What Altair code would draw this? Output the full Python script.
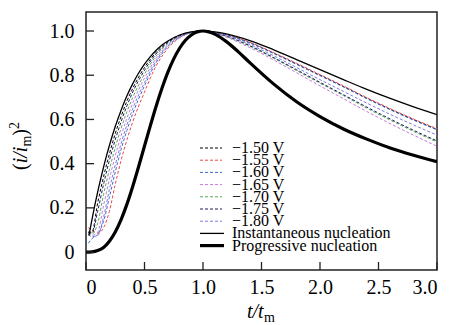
import altair as alt
import pandas as pd

# ---------------- data ----------------
x_exp = [0.02, 0.05, 0.1, 0.15, 0.2, 0.25, 0.3, 0.35, 0.4, 0.5, 0.6, 0.7, 0.8, 0.9,
         1.0, 1.1, 1.2, 1.4, 1.6, 1.8, 2.0, 2.2, 2.4, 2.6, 2.8, 3.0]

y_150 = [0.09, 0.09, 0.222, 0.341, 0.444, 0.536, 0.614, 0.683, 0.741, 0.835, 0.904, 0.951, 0.980, 0.995,
         1.0, 0.994, 0.983, 0.947, 0.901, 0.851, 0.800, 0.749, 0.696, 0.646, 0.599, 0.555]
y_155 = [0.11, 0.10, 0.085, 0.11, 0.185, 0.307, 0.415, 0.508, 0.590, 0.724, 0.843, 0.922, 0.969, 0.993,
         1.0, 0.995, 0.984, 0.949, 0.903, 0.854, 0.803, 0.752, 0.699, 0.649, 0.602, 0.558]
y_160 = [0.04, 0.06, 0.08, 0.14, 0.248, 0.362, 0.464, 0.551, 0.627, 0.752, 0.858, 0.930, 0.971, 0.993,
         1.0, 0.994, 0.982, 0.946, 0.899, 0.849, 0.798, 0.747, 0.694, 0.644, 0.597, 0.553]
y_165 = [0.085, 0.075, 0.09, 0.211, 0.330, 0.435, 0.526, 0.606, 0.675, 0.787, 0.877, 0.939, 0.975, 0.994,
         1.0, 0.989, 0.972, 0.925, 0.870, 0.811, 0.752, 0.694, 0.636, 0.581, 0.529, 0.479]
y_170 = [0.09, 0.08, 0.131, 0.260, 0.373, 0.473, 0.560, 0.635, 0.700, 0.805, 0.888, 0.943, 0.977, 0.994,
         1.0, 0.990, 0.975, 0.931, 0.878, 0.821, 0.764, 0.708, 0.651, 0.597, 0.546, 0.498]
y_175 = [0.09, 0.085, 0.185, 0.307, 0.415, 0.508, 0.590, 0.662, 0.724, 0.822, 0.897, 0.948, 0.979, 0.995,
         1.0, 0.991, 0.977, 0.934, 0.881, 0.825, 0.768, 0.712, 0.656, 0.602, 0.551, 0.503]
y_180 = [0.08, 0.07, 0.075, 0.158, 0.284, 0.394, 0.491, 0.576, 0.649, 0.767, 0.867, 0.934, 0.973, 0.993,
         1.0, 0.992, 0.979, 0.939, 0.889, 0.835, 0.780, 0.727, 0.674, 0.623, 0.575, 0.529]

x_inst = [0.025, 0.05, 0.075, 0.1, 0.125, 0.15, 0.175, 0.2, 0.25, 0.3, 0.35, 0.4, 0.45, 0.5, 0.55, 0.6,
          0.65, 0.7, 0.8, 0.9, 1.0, 1.1, 1.2, 1.4, 1.6, 1.8, 2.0, 2.2, 2.4, 2.6, 2.8, 3.0]
y_inst = [0.075, 0.145, 0.211, 0.272, 0.330, 0.384, 0.435, 0.482, 0.568, 0.642, 0.707, 0.762, 0.810,
          0.850, 0.884, 0.913, 0.937, 0.955, 0.982, 0.996, 1.0, 0.996, 0.987, 0.957, 0.916, 0.871,
          0.825, 0.780, 0.736, 0.695, 0.657, 0.622]

x_prog = [0.0, 0.05, 0.1, 0.15, 0.2, 0.25, 0.3, 0.35, 0.4, 0.45, 0.5, 0.55, 0.6, 0.65, 0.7, 0.75,
          0.8, 0.85, 0.9, 0.95, 1.0, 1.05, 1.1, 1.2, 1.3, 1.4, 1.6, 1.8, 2.0, 2.2, 2.4, 2.6, 2.8, 3.0]
y_prog = [0.0, 0.001, 0.007, 0.021, 0.049, 0.091, 0.147, 0.217, 0.298, 0.387, 0.480, 0.572, 0.661,
          0.742, 0.814, 0.874, 0.922, 0.958, 0.982, 0.996, 1.0, 0.996, 0.986, 0.952, 0.907, 0.857,
          0.762, 0.680, 0.613, 0.557, 0.511, 0.471, 0.438, 0.409]

series_labels = ["\u22121.50 V", "\u22121.55 V", "\u22121.60 V", "\u22121.65 V",
                 "\u22121.70 V", "\u22121.75 V", "\u22121.80 V"]
series_values = [y_150, y_155, y_160, y_165, y_170, y_175, y_180]
series_colors = ["#000000", "#f04848", "#3a68d0", "#c878d8", "#58a858", "#1c1c5c", "#7c7ce0"]

theory_labels = ["Instantaneous nucleation", "Progressive nucleation"]

x_ticks = [0, 0.5, 1.0, 1.5, 2.0, 2.5, 3.0]
y_ticks = [0, 0.2, 0.4, 0.6, 0.8, 1.0]

# ---------------- chart ----------------
FONT = "Liberation Serif"
W, H = 351, 258

xs = alt.Scale(domain=[0, 3], nice=False, zero=False)
ys = alt.Scale(domain=[-0.081, 1.086], nice=False, zero=False)

X = alt.X("x:Q", scale=xs,
          axis=alt.Axis(values=x_ticks, title=None, grid=False, domain=False, ticks=False,
                        labelPadding=7, labelFont=FONT, labelFontSize=20, labelColor="black",
                        labelExpr="datum.value == 0 ? '0' : format(datum.value, '.1f')"))
Y = alt.Y("y:Q", scale=ys,
          axis=alt.Axis(values=y_ticks, title=None, grid=False, domain=False, ticks=False,
                        labelPadding=12, labelFont=FONT, labelFontSize=20, labelColor="black",
                        labelExpr="datum.value == 0 ? '0' : format(datum.value, '.1f')"))

layers = []

for lab, vals, col in zip(series_labels, series_values, series_colors):
    df = pd.DataFrame({"x": x_exp, "y": vals})
    layers.append(
        alt.Chart(df).mark_line(color=col, strokeWidth=1.0, strokeDash=[3, 2],
                                interpolate="monotone", clip=True)
        .encode(x=X, y=Y)
    )

df_inst = pd.DataFrame({"x": x_inst, "y": y_inst})
layers.append(alt.Chart(df_inst).mark_line(color="black", strokeWidth=1.3,
                                           interpolate="monotone", clip=True)
              .encode(x=X, y=Y))
df_prog = pd.DataFrame({"x": x_prog, "y": y_prog})
layers.append(alt.Chart(df_prog).mark_line(color="black", strokeWidth=3.2,
                                           interpolate="monotone", clip=True)
              .encode(x=X, y=Y))

# inward ticks
df_yt = pd.DataFrame({"y": y_ticks})
layers.append(alt.Chart(df_yt).mark_rule(color="#222", strokeWidth=1.3)
              .encode(y=alt.Y("y:Q", scale=ys), x=alt.value(0), x2=alt.value(8)))
df_xt = pd.DataFrame({"x": x_ticks})
layers.append(alt.Chart(df_xt).mark_rule(color="#222", strokeWidth=1.3)
              .encode(x=alt.X("x:Q", scale=xs), y=alt.value(H - 8), y2=alt.value(H)))

# legend (manual, inside plot)
LX0, LX1, LT = 114, 136, 146
row0, dy = 136, 12.2
for i, (lab, col) in enumerate(zip(series_labels, series_colors)):
    yy = row0 + dy * i
    layers.append(alt.Chart(pd.DataFrame({"a": [0]})).mark_rule(color=col, strokeWidth=1.0,
                                                               strokeDash=[3, 2])
                  .encode(x=alt.value(LX0), x2=alt.value(LX1), y=alt.value(yy)))
    layers.append(alt.Chart(pd.DataFrame({"t": [lab]})).mark_text(
        font=FONT, fontSize=16, align="left", baseline="middle", color="black")
        .encode(text="t:N", x=alt.value(LT), y=alt.value(yy)))
for j, (lab, sw) in enumerate(zip(theory_labels, [1.3, 3.2])):
    yy = row0 + dy * (7 + j)
    layers.append(alt.Chart(pd.DataFrame({"a": [0]})).mark_rule(color="black", strokeWidth=sw)
                  .encode(x=alt.value(LX0), x2=alt.value(LX1 + 2), y=alt.value(yy)))
    layers.append(alt.Chart(pd.DataFrame({"t": [lab]})).mark_text(
        font=FONT, fontSize=16, align="left", baseline="middle", color="black")
        .encode(text="t:N", x=alt.value(LT), y=alt.value(yy)))

# axis titles built from pieces (italic letters, subscript m, superscript 2)
def txt(s, x, y, size, style="normal", angle=0):
    kw = dict(font=FONT, fontSize=size, align="left", baseline="alphabetic",
              color="black", fontStyle=style)
    if angle:
        kw["angle"] = angle
    return (alt.Chart(pd.DataFrame({"t": [s]})).mark_text(**kw)
            .encode(text="t:N", x=alt.value(x), y=alt.value(y)))

# x title: t/t_m
layers.append(txt("t/t", 161, 306, 20, "italic"))
layers.append(txt("m", 178, 310, 14))
# y title: (i/i_m)^2 rotated
bx = -59
layers.append(txt("(", bx, 158, 20, angle=270))
layers.append(txt("i/i", bx, 151.3, 20, "italic", angle=270))
layers.append(txt("m", bx + 4, 134.6, 14, angle=270))
layers.append(txt(")", bx, 123.7, 20, angle=270))
layers.append(txt("2", bx - 8, 117, 14, angle=270))

chart = (alt.layer(*layers)
         .properties(width=W, height=H,
                     padding={"left": 86, "top": 12, "right": 18, "bottom": 55},
                     autosize=alt.AutoSizeParams(type="none"))
         .configure_view(stroke="#222", strokeWidth=1.5))

chart.save("out.html", embed_options={"renderer": "svg", "actions": False})
